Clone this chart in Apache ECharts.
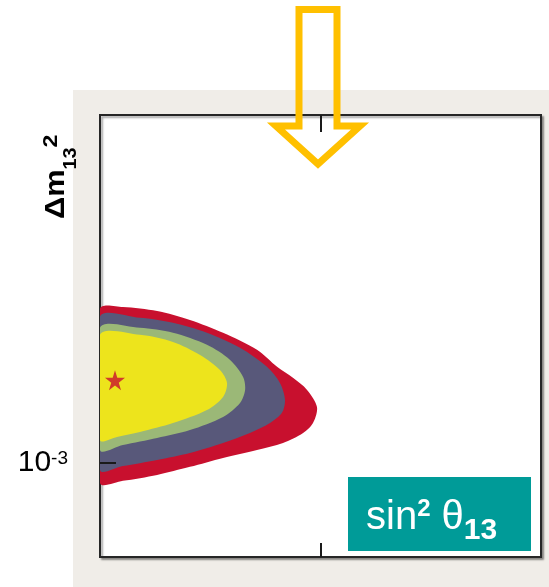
<!DOCTYPE html>
<html><head><meta charset="utf-8">
<script src="https://cdn.jsdelivr.net/npm/echarts@6/dist/echarts.min.js"></script>
<style>html,body{margin:0;padding:0;background:#fff}#c{width:549px;height:587px}</style>
</head><body><div id="c"></div>
<script>
// x: sin^2(theta13); y: Δm²13 in units of 1e-3 eV²
const redX    = [0, 0.0104, 0.0259, 0.0408, 0.0558, 0.0712, 0.0803, 0.0875, 0.0939, 0.0984, 0.0966, 0.0921, 0.0830, 0.0712, 0.0558, 0.0408, 0.0259, 0.0104, 0];
const redY    = [2.127, 2.147, 2.105, 2.015, 1.891, 1.740, 1.601, 1.517, 1.430, 1.315, 1.216, 1.158, 1.103, 1.066, 1.025, 0.981, 0.943, 0.916, 0.907];
const navyX   = [0, 0.0181, 0.0331, 0.0485, 0.0635, 0.0757, 0.0816, 0.0839, 0.0825, 0.0771, 0.0680, 0.0558, 0.0408, 0.0259, 0.0104, 0];
const navyY   = [2.045, 2.035, 1.986, 1.891, 1.757, 1.601, 1.480, 1.362, 1.278, 1.216, 1.158, 1.103, 1.050, 1.015, 0.985, 0.966];
const greenX  = [0, 0.0181, 0.0331, 0.0485, 0.0590, 0.0649, 0.0658, 0.0635, 0.0558, 0.0408, 0.0259, 0.0104, 0];
const greenY  = [1.938, 1.938, 1.891, 1.783, 1.656, 1.524, 1.430, 1.342, 1.253, 1.175, 1.130, 1.092, 1.066];
const yellowX = [0, 0.0181, 0.0331, 0.0454, 0.0544, 0.0576, 0.0558, 0.0485, 0.0331, 0.0181, 0.0077, 0];
const yellowY = [1.873, 1.873, 1.809, 1.697, 1.577, 1.480, 1.382, 1.296, 1.216, 1.164, 1.136, 1.119];
const bestX = [0.0068];
const bestY = [1.50];
const xTicks = [0.1];
const yTicks = [1];          // 1e-3 eV²
const yTickLabels = ['10|-3'];

const FONT = 'Liberation Sans, Arial, sans-serif';
const chart = echarts.init(document.getElementById('c'), null, {renderer: 'canvas'});

function polySeries(xs, ys, color) {
  const pts = xs.map((x, i) => [x, Math.log10(ys[i])]);
  return {
    type: 'custom', coordinateSystem: 'cartesian2d', xAxisIndex: 0, yAxisIndex: 0,
    data: pts, silent: true, clip: true,
    renderItem(params, api) {
      if (params.dataIndex !== 0) return null;
      const p = pts.map(d => api.coord(d));
      return {type: 'polygon', shape: {points: p, smooth: 0.3}, style: {fill: color, stroke: null}};
    }
  };
}

const tickStyle = {color: '#1a1a1a', width: 2};
const option = {
  animation: false,
  grid: {left: 100, top: 115, width: 441, height: 442, show: true, backgroundColor: '#fff',
         borderColor: '#262626', borderWidth: 2,
         shadowColor: 'rgba(0,0,0,0.35)', shadowOffsetX: 2, shadowOffsetY: 2, shadowBlur: 2},
  xAxis: [
    {type: 'value', min: 0, max: 0.2, position: 'bottom', z: 10, axisLine: {show: false, onZero: false}, splitLine: {show: false},
     axisTick: {show: true, inside: true, length: 14, customValues: xTicks, lineStyle: tickStyle},
     axisLabel: {show: false}},
    {type: 'value', min: 0, max: 0.2, position: 'top', z: 10, axisLine: {show: false, onZero: false}, splitLine: {show: false},
     axisTick: {show: true, inside: true, length: 17, customValues: xTicks, lineStyle: tickStyle},
     axisLabel: {show: false}}
  ],
  yAxis: {
    type: 'value', min: -0.2, max: 0.74, z: 10, axisLine: {show: false, onZero: false}, splitLine: {show: false},
    axisTick: {show: true, inside: true, length: 16, customValues: yTicks.map(v => Math.log10(v)), lineStyle: tickStyle},
    axisLabel: {
      show: true, margin: 32, customValues: yTicks.map(v => Math.log10(v)),
      formatter: (v) => {
        const i = yTicks.findIndex(t => Math.abs(Math.log10(t) - v) < 1e-9);
        const parts = (yTickLabels[i < 0 ? 0 : i]).split('|');
        return '{a|' + parts[0] + '}{b|' + parts[1] + '}';
      },
      rich: {
        a: {fontSize: 30, fontFamily: FONT, color: '#000'},
        b: {fontSize: 19, fontFamily: FONT, color: '#000', padding: [0, 0, 8, 0]}
      }
    }
  },
  graphic: [
    {type: 'rect', z: -100, shape: {x: 73, y: 90, width: 476, height: 497}, style: {fill: '#f0ede8'}},
    {type: 'rect', z: 100, shape: {x: 348, y: 477, width: 183, height: 74}, style: {fill: '#009b98'}},
    {type: 'text', z: 101, x: 366, y: 517.5,
     style: {text: '{m|sin}{p|2}{m| θ}{s|13}', align: 'left', verticalAlign: 'middle', fill: '#fff',
       rich: {
         m: {fontSize: 40, fontFamily: FONT, fill: '#fff'},
         p: {fontSize: 24, fontWeight: 'bold', fontFamily: FONT, fill: '#fff', padding: [0, 0, 16, 0]},
         s: {fontSize: 30, fontWeight: 'bold', fontFamily: FONT, fill: '#fff', padding: [27, 0, 0, 0]}
       }}},
    {type: 'text', z: 101, x: 56, y: 219, rotation: Math.PI / 2, scaleX: 1.1,
     style: {text: '{m|Δm}{s|13}{p|2}', align: 'left', verticalAlign: 'middle', fill: '#000',
       rich: {
         m: {fontSize: 28, fontWeight: 'bold', fontFamily: FONT, fill: '#000'},
         s: {fontSize: 18, fontWeight: 'bold', fontFamily: FONT, fill: '#000', padding: [30, 0, 0, 0]},
         p: {fontSize: 21, fontWeight: 'bold', fontFamily: FONT, fill: '#000', padding: [0, 0, 10, 0]}
       }}},
    {type: 'polygon', z: 110,
     shape: {points: [[299, 9.5], [337, 9.5], [337, 126], [360, 126], [318, 164], [276, 126], [299, 126]]},
     style: {fill: 'none', stroke: '#ffc000', lineWidth: 7, lineJoin: 'miter'}}
  ],
  series: [
    polySeries(redX, redY, '#c8102e'),
    polySeries(navyX, navyY, '#58587a'),
    polySeries(greenX, greenY, '#9bb877'),
    polySeries(yellowX, yellowY, '#ede41c'),
    {type: 'scatter', silent: true, symbol: 'path://M50,0 L61,35 L98,35 L68,57 L79,91 L50,70 L21,91 L32,57 L2,35 L39,35 Z',
     symbolSize: 20, itemStyle: {color: '#c8102e'},
     data: bestX.map((x, i) => [x, Math.log10(bestY[i])])}
  ]
};
chart.setOption(option);
</script></body></html>
